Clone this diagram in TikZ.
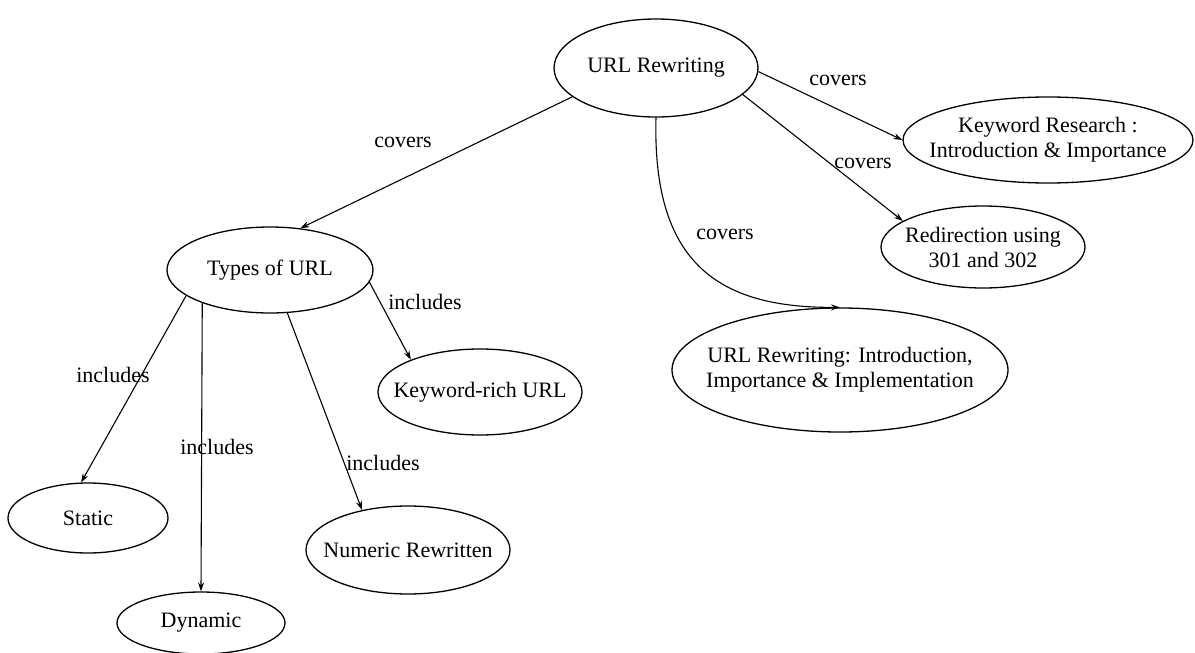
\documentclass[tikz,border=0pt]{standalone}
\usepackage{fontspec}
\setmainfont{Liberation Serif}
\usetikzlibrary{shapes.geometric,arrows.meta}
\begin{document}
\begin{tikzpicture}[x=1pt,y=-1pt,
  topic/.style={draw,ellipse,line width=1.3pt,inner sep=0pt},
  ttext/.style={align=center,inner sep=0pt,font=\fontsize{22}{25}\selectfont},
  link/.style={draw,line width=1.1pt,-{Stealth[length=9pt,width=6pt]}},
  lbl/.style={font=\fontsize{22}{25}\selectfont,inner sep=0pt}]
\useasboundingbox (0,0) rectangle (1195,653);
\node[topic,minimum width=204pt,minimum height=98pt,label={[ttext]center:URL Rewriting}] (url) at (656,68) {};
\node[topic,minimum width=290pt,minimum height=86pt,label={[ttext]center:{Keyword Research :\\Introduction \& Importance}}] (kr) at (1048,140) {};
\node[topic,minimum width=204pt,minimum height=82pt,label={[ttext]center:{Redirection using\\301 and 302}}] (red) at (983,247) {};
\node[topic,minimum width=336pt,minimum height=124pt,label={[ttext]center:{URL Rewriting: Introduction,\\Importance \& Implementation}}] (intro) at (840,370) {};
\node[topic,minimum width=206pt,minimum height=86pt,label={[ttext]center:{Types of URL}}] (types) at (270,270) {};
\node[topic,minimum width=204pt,minimum height=86pt,label={[ttext]center:{Keyword-rich URL}}] (kw) at (480,392) {};
\node[topic,minimum width=204pt,minimum height=88pt,label={[ttext]center:{Numeric Rewritten}}] (num) at (408,550) {};
\node[topic,minimum width=160pt,minimum height=70pt,label={[ttext]center:{Static}}] (static) at (88,518) {};
\node[topic,minimum width=168pt,minimum height=62pt,label={[ttext]center:{Dynamic}}] (dyn) at (201,623) {};

\draw[link] (url.199) -- (types.54);
\draw[link] (url.-2) -- (kr.180);
\draw[link] (url.-17) -- (red.162);
\draw[link] (url.270) .. controls (652,265) and (720,308) .. (intro.90);
\draw[link] (types.-7) -- (kw.155);
\draw[link] (types.197) -- (static.101);
\draw[link] (types.206) -- (dyn.90);
\draw[link] (types.292) -- (num.139);

\node[lbl] (l1) at (403,142) {covers};
\node[lbl] (l2) at (838,80) {covers};
\node[lbl] (l3) at (863,163) {covers};
\node[lbl] (l4) at (725,234) {covers};
\node[lbl] (l5) at (425,302) {includes};
\node[lbl] (l6) at (113,375) {includes};
\node[lbl] (l7) at (217,447) {includes};
\node[lbl] (l8) at (383,463) {includes};
\end{tikzpicture}
\end{document}
